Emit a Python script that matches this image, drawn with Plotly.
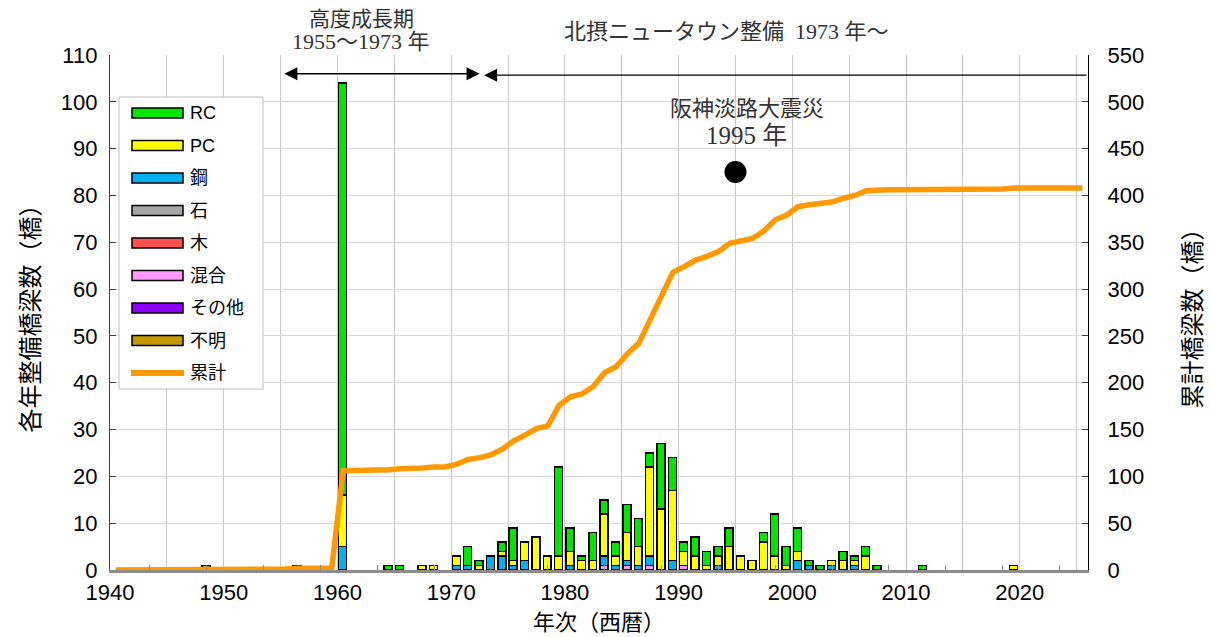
import numpy as np
import plotly.graph_objects as go

# ---------------- data ----------------
bar_years = [1948, 1956, 1960, 1964, 1965, 1967, 1968,
             1970, 1971, 1972, 1973, 1974, 1975, 1976, 1977, 1978, 1979,
             1980, 1981, 1982, 1983, 1984, 1985, 1986, 1987, 1988, 1989,
             1990, 1991, 1992, 1993, 1994, 1995, 1996, 1997, 1998, 1999,
             2000, 2001, 2002, 2003, 2004, 2005, 2006, 2007, 2011, 2019]

rc = [0, 0, 88, 1, 1, 0, 0,
      0, 4, 1, 0, 2, 7, 0, 0, 0, 19,
      5, 1, 6, 3, 3, 6, 6, 3, 14, 7,
      2, 4, 3, 2, 4, 0, 0, 2, 9, 4,
      5, 1, 1, 0, 2, 1, 2, 1, 1, 0]
pc = [0, 0, 11, 0, 0, 1, 1,
      2, 0, 1, 0, 1, 1, 4, 7, 3, 3,
      3, 2, 2, 9, 2, 6, 4, 19, 13, 15,
      3, 3, 1, 2, 5, 3, 2, 6, 3, 1,
      2, 0, 0, 1, 2, 1, 3, 0, 0, 1]
steel = [0, 0, 5, 0, 0, 0, 0,
         1, 1, 0, 3, 3, 1, 2, 0, 0, 0,
         1, 0, 0, 2, 1, 1, 1, 2, 0, 2,
         0, 0, 0, 1, 0, 0, 0, 0, 0, 0,
         2, 1, 0, 1, 0, 1, 0, 0, 0, 0]
stone = [0, 0, 0, 0, 0, 0, 0,
         0, 0, 0, 0, 0, 0, 0, 0, 0, 0,
         0, 0, 0, 0, 0, 0, 0, 0, 0, 0,
         0, 0, 0, 0, 0, 0, 0, 0, 0, 0,
         0, 0, 0, 0, 0, 0, 0, 0, 0, 0]
wood = [0, 0, 0, 0, 0, 0, 0,
        0, 0, 0, 0, 0, 0, 0, 0, 0, 0,
        0, 0, 0, 0, 0, 0, 0, 0, 0, 0,
        0, 0, 0, 0, 0, 0, 0, 0, 0, 0,
        0, 0, 0, 0, 0, 0, 0, 0, 0, 0]
mixed = [0, 0, 0, 0, 0, 0, 0,
         0, 0, 0, 0, 0, 0, 0, 0, 0, 0,
         0, 0, 0, 1, 0, 1, 0, 1, 0, 0,
         1, 0, 0, 0, 0, 0, 0, 0, 0, 0,
         0, 0, 0, 0, 0, 0, 0, 0, 0, 0]
other = [0, 0, 0, 0, 0, 0, 0,
         0, 0, 0, 0, 0, 0, 0, 0, 0, 0,
         0, 0, 0, 0, 0, 0, 0, 0, 0, 0,
         0, 0, 0, 0, 0, 0, 0, 0, 0, 0,
         0, 0, 0, 0, 0, 0, 0, 0, 0, 0]
unknown = [1, 1, 0, 0, 0, 0, 0,
           0, 0, 0, 0, 0, 0, 0, 0, 0, 0,
           0, 0, 0, 0, 0, 0, 0, 0, 0, 0,
           0, 0, 0, 0, 0, 0, 0, 0, 0, 0,
           0, 0, 0, 0, 0, 0, 0, 0, 0, 0]

line_years = list(range(1940, 2026))   # 累計 plotted for every year

quake_year = [1995]
quake_level = [85]

x_tick_vals = [1940, 1950, 1960, 1970, 1980, 1990, 2000, 2010, 2020]

# cumulative total (累計) from the yearly counts
totals = {y: 0 for y in line_years}
for i, y in enumerate(bar_years):
    totals[y] += rc[i] + pc[i] + steel[i] + stone[i] + wood[i] + mixed[i] + other[i] + unknown[i]
cumulative = np.cumsum([totals[y] for y in line_years])

# ---------------- styles ----------------
names = ["RC", "PC", "鋼", "石", "木", "混合", "その他", "不明"]
colors = ["#00e600", "#ffff00", "#00b0f0", "#a6a6a6", "#ff5050", "#ff99ff", "#8b00ff", "#c49a00"]
series = [rc, pc, steel, stone, wood, mixed, other, unknown]
line_color = "#ff9900"

JP = "Noto Sans CJK JP"
TICKF = "Liberation Sans, Arial, sans-serif"
SERIF = "Liberation Serif, Noto Sans CJK JP, serif"

fig = go.Figure()

# stacked bars: bottom-most is the last legend item
for name, col, vals in reversed(list(zip(names, colors, series))):
    fig.add_trace(go.Bar(
        x=bar_years, y=vals, name=name,
        marker=dict(color=col, line=dict(color="black", width=1.5)),
        width=0.7, offset=0.1, showlegend=False,
    ))

fig.add_trace(go.Scatter(
    x=line_years, y=cumulative, name="累計", mode="lines",
    line=dict(color=line_color, width=5.5),
    xaxis="x2", yaxis="y2", showlegend=False,
))

fig.add_trace(go.Scatter(
    x=quake_year, y=quake_level, mode="markers",
    marker=dict(color="black", size=22), showlegend=False,
))

# ---------------- layout ----------------
W, H = 1211, 637
L, R, T, B = 110, 1088, 55, 570   # plot area in window pixels


def px(xp):
    return (xp - L) / (R - L)


def py(yp):
    return (B - yp) / (B - T)


fig.update_layout(
    width=W, height=H,
    margin=dict(l=L, r=W - R, t=T, b=H - B, autoexpand=False),
    paper_bgcolor="white", plot_bgcolor="white",
    barmode="stack",
    showlegend=False,
    xaxis=dict(
        range=[1940, 2026], tickvals=x_tick_vals, automargin=False,
        showgrid=True, gridcolor="#c8c8c8", gridwidth=1.3,
        minor=dict(dtick=5, tick0=1940, showgrid=True, gridcolor="#c8c8c8", gridwidth=1.3),
        showline=True, linecolor="#8c8c8c", linewidth=2.5,
        ticks="", tickfont=dict(family=TICKF, size=22, color="black"),
        ticklabelstandoff=1,
        zeroline=False,
    ),
    xaxis2=dict(
        overlaying="x", range=[1939.5, 2025.5], anchor="y", side="bottom", automargin=False,
        showgrid=False, showline=False, showticklabels=False, zeroline=False,
        ticks="inside", tick0=1943, dtick=5, ticklen=5, tickcolor="#8c8c8c", tickwidth=1.3,
    ),
    yaxis=dict(
        range=[0, 110], dtick=10, automargin=False,
        showgrid=True, gridcolor="#d9d9d9", gridwidth=1.3,
        showline=True, linecolor="#404040", linewidth=1.3,
        ticks="inside", ticklen=6, tickcolor="#404040",
        tickfont=dict(family=TICKF, size=22, color="black"),
        ticklabelstandoff=7,
        title=dict(text="各年整備橋梁数（橋）", font=dict(family=JP, size=24, color="black"), standoff=14),
        zeroline=False,
    ),
    yaxis2=dict(
        overlaying="y", side="right", anchor="x", automargin=False,
        range=[0, 550], dtick=50,
        showgrid=False, showline=True, linecolor="black", linewidth=1.3,
        ticks="inside", ticklen=6, tickcolor="#404040",
        tickfont=dict(family=TICKF, size=22, color="black"),
        ticklabelstandoff=14,
        title=dict(text="累計橋梁数（橋）", font=dict(family=JP, size=24, color="black"), standoff=40),
        zeroline=False,
    ),
)

annotations = []
shapes = []

# x-axis title
annotations.append(dict(x=0.5, y=py(620), xref="paper", yref="paper", text="年次（西暦）",
                        showarrow=False, xanchor="center", yanchor="middle",
                        font=dict(family=JP, size=22, color="black")))

# period arrows
annotations.append(dict(
    x=1972.5, y=106, ax=1955.2, ay=106, xref="x", yref="y", axref="x", ayref="y",
    text="", showarrow=True, arrowside="end+start", arrowhead=2, startarrowhead=2,
    arrowsize=2, startarrowsize=2, arrowwidth=1.3, arrowcolor="black",
    standoff=0, startstandoff=0,
))
annotations.append(dict(
    x=1972.9, y=105.7, ax=2026, ay=105.7, xref="x", yref="y", axref="x", ayref="y",
    text="", showarrow=True, arrowside="end", arrowhead=2,
    arrowsize=2, arrowwidth=1.3, arrowcolor="black", standoff=0,
))

txt_color = "#333333"
annotations += [
    dict(x=1962.1, y=py(19), xref="x", yref="paper", text="高度成長期", showarrow=False,
         font=dict(family=SERIF, size=21, color=txt_color), xanchor="center", yanchor="middle"),
    dict(x=1962.1, y=py(41), xref="x", yref="paper", text="1955～1973 年", showarrow=False,
         font=dict(family=SERIF, size=22, color=txt_color), xanchor="center", yanchor="middle"),
    dict(x=1994.2, y=py(31), xref="x", yref="paper", text="北摂ニュータウン整備  1973 年～", showarrow=False,
         font=dict(family=SERIF, size=22, color=txt_color), xanchor="center", yanchor="middle"),
    dict(x=1996.0, y=py(108), xref="x", yref="paper", text="阪神淡路大震災", showarrow=False,
         font=dict(family=SERIF, size=22, color=txt_color), xanchor="center", yanchor="middle"),
    dict(x=1996.0, y=py(135), xref="x", yref="paper", text="1995 年", showarrow=False,
         font=dict(family=SERIF, size=25, color=txt_color), xanchor="center", yanchor="middle"),
]

# legend (drawn by hand to mimic wide swatches)
shapes.append(dict(type="rect", xref="paper", yref="paper",
                   x0=px(119), x1=px(263), y0=py(389), y1=py(97),
                   line=dict(color="#bfbfbf", width=1), fillcolor="white", layer="above"))
item_y0 = 113
item_dy = 32.5
for i, (name, col) in enumerate(zip(names + ["累計"], colors + [line_color])):
    yc = item_y0 + i * item_dy
    if name == "累計":
        shapes.append(dict(type="line", xref="paper", yref="paper",
                           x0=px(131), x1=px(184), y0=py(yc), y1=py(yc),
                           line=dict(color=col, width=6), layer="above"))
    else:
        shapes.append(dict(type="rect", xref="paper", yref="paper",
                           x0=px(132), x1=px(183), y0=py(yc + 5), y1=py(yc - 5),
                           line=dict(color="black", width=1.5), fillcolor=col, layer="above"))
    annotations.append(dict(x=px(188), y=py(yc), xref="paper", yref="paper", text=name,
                            showarrow=False, xanchor="left", yanchor="middle",
                            font=dict(family="Liberation Sans, " + JP, size=18, color="black")))

fig.update_layout(annotations=annotations, shapes=shapes)

# the page's default 8px body margin would shift the chart; remove it
fig.write_html("out.html", config={"displayModeBar": False},
               post_script="document.body.style.margin='0';")
